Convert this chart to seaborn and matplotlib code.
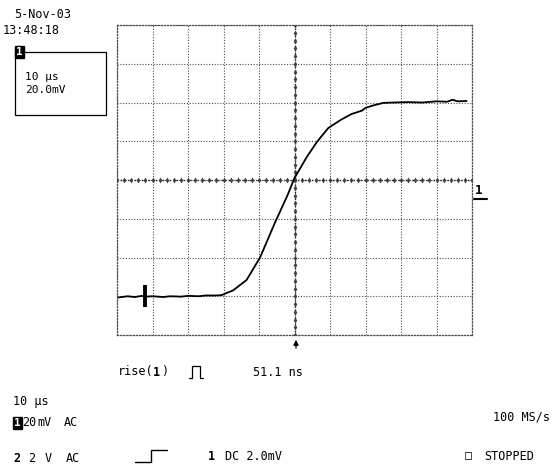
import numpy as np
import pandas as pd
import matplotlib
matplotlib.use("Agg")
import matplotlib.pyplot as plt
from matplotlib.lines import Line2D
import seaborn as sns

# -------------------------------
# Data (10 us/div, 20 mV/div)
# -------------------------------
time_us = [-49.5, -47.0, -45.0, -43.0, -42.0, -40.0, -37.0, -35.0, -32.0, -30.0,
           -27.0, -25.0, -22.0, -20.5, -19.5, -17.3, -13.5, -9.7, -5.5, -2.0,
           0.0, 3.5, 6.3, 9.5, 13.0, 16.0, 19.0, 20.0, 22.0, 25.0, 28.0,
           32.0, 36.0, 40.0, 43.0, 44.5, 46.0, 48.5]
volt_mv = [-60.6, -60.0, -60.4, -59.8, -60.2, -60.0, -60.4, -60.0, -60.2, -59.8,
           -60.0, -59.6, -59.6, -59.4, -58.6, -57.0, -51.6, -40.0, -22.0, -8.0,
           1.0, 12.0, 19.6, 26.8, 31.0, 34.0, 35.8, 37.2, 38.4, 39.8, 40.0,
           40.2, 40.0, 40.6, 40.4, 41.4, 40.6, 40.8]

trigger_us = -42.0
trigger_mv = -60.0

x_min, x_max, x_div = -50, 50, 10
y_min, y_max, y_div = -80, 80, 20

df = pd.DataFrame({"time": time_us, "volt": volt_mv})

# -------------------------------
# Figure
# -------------------------------
sns.set_style("white")
plt.rcParams['font.family'] = ['DejaVu Sans Mono', 'DejaVu Sans']

W, H = 556, 467
fig = plt.figure(figsize=(W / 100, H / 100), dpi=100)
ax = fig.add_axes([117 / W, (H - 335) / H, 355 / W, 310 / H])

grid_col = "0.3"
ax.set_xlim(x_min, x_max)
ax.set_ylim(y_min, y_max)
ax.set_xticks(np.arange(x_min, x_max + 1, x_div))
ax.set_yticks(np.arange(y_min, y_max + 1, y_div))
ax.set_xticklabels([])
ax.set_yticklabels([])
ax.tick_params(length=0)
ax.grid(True, linestyle=(0, (1, 1.5)), color=grid_col, linewidth=0.8)
for sp in ax.spines.values():
    sp.set_linestyle((0, (1, 1.5)))
    sp.set_color(grid_col)
    sp.set_linewidth(0.9)

# center axes with minor tick marks
ax.axhline(0, linestyle=(0, (1, 1.5)), color="0.15", linewidth=1.0)
ax.axvline(0, linestyle=(0, (1, 1.5)), color="0.15", linewidth=1.0)
minor_x = np.arange(x_min, x_max + 0.01, x_div / 5)
minor_y = np.arange(y_min, y_max + 0.01, y_div / 5)
ax.plot(minor_x, np.zeros_like(minor_x), linestyle="none", marker="d",
        markersize=3, color="0.25", markeredgewidth=0)
ax.plot(np.zeros_like(minor_y), minor_y, linestyle="none", marker="d",
        markersize=3, color="0.25", markeredgewidth=0)

# trace
sns.lineplot(data=df, x="time", y="volt", ax=ax, color="black",
             linewidth=1.3, estimator=None, sort=False)
ax.plot([trigger_us], [trigger_mv], marker="|", markersize=16,
        markeredgewidth=2.8, color="black")
ax.set_xlabel("")
ax.set_ylabel("")


# -------------------------------
# Screen annotations (pixel placement)
# -------------------------------
def px(x, y):
    return x / W, 1 - y / H


def label(x, y, s, size=8.5, weight="normal", **kw):
    fig.text(*px(x, y), s, fontsize=size, fontweight=weight, va="center",
             ha="left", color="black", **kw)


def pline(xs, ys, lw=1.0):
    fx = [x / W for x in xs]
    fy = [1 - y / H for y in ys]
    fig.add_artist(Line2D(fx, fy, color="black", linewidth=lw,
                          transform=fig.transFigure))


def badge(x, y, s):
    fig.text(*px(x, y), s, fontsize=8, fontweight="bold", va="center",
             ha="left", color="white",
             bbox=dict(boxstyle="square,pad=0.12", fc="black", ec="black"))


label(14, 14, "5-Nov-03")
label(3, 30, "13:48:18")
pline([15, 106, 106, 15, 15], [52, 52, 115, 115, 52], lw=0.9)
badge(16, 52, "1")
label(25, 77, "10 µs", size=8)
label(25, 90, "20.0mV", size=8)

# right channel marker
label(475, 191, "1", size=9, weight="bold")
pline([474, 487], [199, 199], lw=1.5)

# center cursor arrow
fig.add_artist(matplotlib.patches.FancyArrowPatch(
    px(296, 351), px(296, 337), transform=fig.transFigure,
    arrowstyle="-|>,head_length=3,head_width=1.5", color="black", lw=0.9))

label(118, 372, "rise(")
label(153, 372, "1", weight="bold")
label(161, 372, ")")
pline([189, 192, 192, 200, 200, 203], [378, 378, 366, 366, 378, 378], lw=0.9)
label(253, 372, "51.1 ns")

label(13, 401, "10 µs")
badge(14, 423, "1")
label(22, 423, "20")
label(37, 423, "mV")
label(64, 423, "AC")
label(493, 417, "100 MS/s")

label(13, 458, "2", weight="bold")
label(28, 458, "2")
label(45, 458, "V")
label(66, 458, "AC")
pline([135, 151, 151, 167], [462, 462, 450, 450], lw=1.0)
label(208, 456, "1", weight="bold")
label(225, 456, "DC 2.0mV")
label(465, 456, "□")
label(484, 456, "STOPPED")

fig.savefig("out.png", dpi=100)
